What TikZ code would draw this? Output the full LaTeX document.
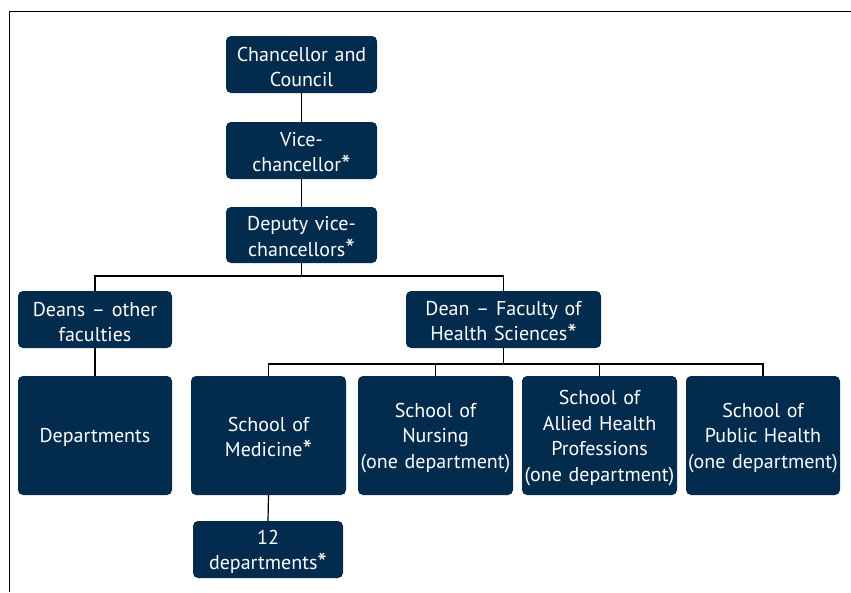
\documentclass[tikz,border=0pt]{standalone}
\usepackage{fontspec}
\setmainfont{PT Sans}
\definecolor{navy}{HTML}{022B4E}
\newcommand{\stard}{\raisebox{-0.12em}{\fontsize{27}{0}\selectfont*}}
\begin{document}
\begin{tikzpicture}[x=1pt,y=-1pt,
  orgbox/.style={fill=navy,rounded corners=5pt,text=white,align=center,
    font=\fontsize{20}{25.5}\selectfont,inner sep=0pt},
  conn/.style={draw=black,line width=1.2pt}]
\useasboundingbox (0,0) rectangle (851,592);
\draw[line width=0.8pt] (9.5,592) -- (9.5,11) -- (851,11);
\newcommand{\orgnode}[6]{%
  \node[orgbox,minimum width={#4-#2},minimum height={#5-#3},text width={#4-#2-2}] (#1) at ({(#2+#4)/2},{(#3+#5)/2}) {#6\par\vspace{-5pt}};}
\orgnode{chan}{226}{36}{377}{93}{Chancellor and\\Council}
\orgnode{vc}{226}{122}{377}{179}{Vice-\\chancellor\stard}
\orgnode{dvc}{226}{207}{377}{263}{Deputy vice-\\chancellors\stard}
\orgnode{deans}{18}{291}{172}{348}{Deans -- other\\faculties}
\orgnode{dean}{406}{291}{601}{348}{Dean -- Faculty of\\Health Sciences\stard}
\orgnode{depts}{18}{376}{172}{495}{Departments}
\orgnode{med}{191}{376}{346}{495}{School of\\Medicine\stard}
\orgnode{nurs}{358}{376}{513}{495}{School of\\Nursing\\(one department)}
\orgnode{allied}{522}{376}{677}{495}{School of\\Allied Health\\Professions\\(one department)}
\orgnode{pub}{686}{376}{840}{495}{School of\\Public Health\\(one department)}
\orgnode{twelve}{193}{521}{343}{578}{12\\departments\stard}
\coordinate (h1) at (0,276);
\coordinate (h2) at (0,364);
\draw[conn] (chan.south) -- (vc.north);
\draw[conn] (vc.south) -- (dvc.north);
\draw[conn] (dvc.south) -- (dvc.south |- h1);
\draw[conn] (deans.north) -- (deans.north |- h1) -- (dean.north |- h1) -- (dean.north);
\draw[conn] (deans.south) -- (depts.north);
\draw[conn] (dean.south) -- (dean.south |- h2);
\draw[conn] (med.north) -- (med.north |- h2) -- (pub.north |- h2) -- (pub.north);
\draw[conn] (nurs.north) -- (nurs.north |- h2);
\draw[conn] (allied.north) -- (allied.north |- h2);
\draw[conn] (med.south) -- (twelve.north);
\end{tikzpicture}
\end{document}
